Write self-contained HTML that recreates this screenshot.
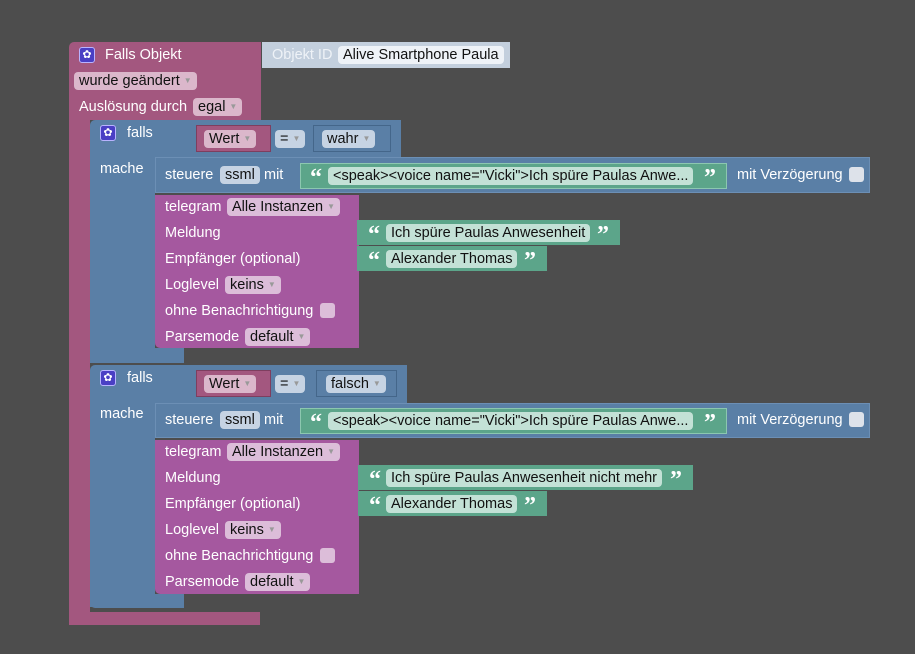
<!DOCTYPE html>
<html><head><meta charset="utf-8"><style>
body{margin:0;width:915px;height:654px;background:#4d4d4d;position:relative;overflow:hidden;font-family:"Liberation Sans",Arial,sans-serif;font-size:14.5px}
div{position:absolute;box-sizing:border-box}
.pk{background:#a3577f}
.bl{background:#5a7fa6}
.pu{background:#a5589f}
.gr{background:#5ca58a}
.t{color:#fff;white-space:nowrap;line-height:18px}
.f{border-radius:4px;color:#111;line-height:18px;height:18px;padding:0 5px;white-space:nowrap}
.fp{background:#dbb7cb}
.fb{background:#c6d3e3}
.fu{background:#dcbdd9}
.fg{background:#c3e1d6}
.ar{color:#999;font-size:8px;vertical-align:2px;margin-left:4px}
.gear{width:16px;height:16px;border-radius:3px;background:#4a3fc4;border:1px solid #b9b3ff;color:#fff;font-size:11px;line-height:14px;text-align:center}
.q{color:#fff;font-weight:bold;font-size:24px;line-height:24px;font-family:"Liberation Serif",serif}
.cb{width:15px;height:15px;border-radius:3px;background:#dde2ea}
</style></head><body>

<div class="pk" style="left:69px;top:42px;width:192px;height:78px;border-radius:5px 0 0 0"></div>
<div class="pk" style="left:69px;top:120px;width:21px;height:505px"></div>
<div class="pk" style="left:69px;top:612px;width:191px;height:13px;border-radius:0 0 0 5px"></div>
<div class="gear" style="left:79px;top:47px">✿</div>
<div class="t" style="left:105px;top:46px">Falls Objekt</div>
<div class="f fp" style="left:74px;top:72px">wurde geändert<span class="ar">▼</span></div>
<div class="t" style="left:79px;top:98px">Auslösung durch</div>
<div class="f fp" style="left:193px;top:98px">egal<span class="ar">▼</span></div>

<div style="left:262px;top:42px;width:248px;height:26px;background:#c3cfdd"></div>
<div class="t" style="left:272px;top:46px;color:#eef2f7">Objekt ID</div>
<div class="f" style="left:338px;top:46px;background:#eef2f7">Alive Smartphone Paula</div>

<!-- IF 1 -->
<div class="bl" style="left:90px;top:120px;width:311px;height:37px;border-radius:5px 0 0 0"></div>
<div class="bl" style="left:90px;top:157px;width:65px;height:206px"></div>
<div class="bl" style="left:90px;top:348px;width:94px;height:15px;border-radius:0 0 0 5px"></div>
<div class="gear" style="left:100px;top:125px">✿</div>
<div class="t" style="left:127px;top:124px">falls</div>
<div class="t" style="left:100px;top:160px">mache</div>
<div class="pk" style="left:196px;top:125px;width:75px;height:27px;border:1px solid #7e3e5f"></div>
<div class="f fp" style="left:204px;top:130px">Wert<span class="ar">▼</span></div>
<div class="f fb" style="left:275px;top:130px">=<span class="ar">▼</span></div>
<div class="bl" style="left:313px;top:125px;width:78px;height:27px;border:1px solid #44668a"></div>
<div class="f fb" style="left:322px;top:130px">wahr<span class="ar">▼</span></div>

<div class="bl" style="left:155px;top:157px;width:715px;height:36px;border:1px solid #6c8fb5"></div>
<div class="t" style="left:165px;top:166px">steuere</div>
<div class="f fb" style="left:220px;top:166px">ssml</div>
<div class="t" style="left:264px;top:166px">mit</div>
<div class="gr" style="left:300px;top:163px;width:427px;height:26px;border:1px solid #8cc7b0"></div>
<div class="q" style="left:310px;top:166px">“</div>
<div class="f fg" style="left:328px;top:167px">&lt;speak&gt;&lt;voice name="Vicki"&gt;Ich spüre Paulas Anwe...</div>
<div class="q" style="left:704px;top:166px">”</div>
<div class="t" style="left:737px;top:166px">mit Verzögerung</div>
<div class="cb" style="left:849px;top:167px"></div>

<div class="pu" style="left:155px;top:195px;width:204px;height:153px;border-radius:0 0 0 5px"></div>
<div class="t" style="left:165px;top:198px">telegram</div>
<div class="f fu" style="left:227px;top:198px">Alle Instanzen<span class="ar">▼</span></div>
<div class="t" style="left:165px;top:224px">Meldung</div>
<div class="t" style="left:165px;top:250px">Empfänger (optional)</div>
<div class="t" style="left:165px;top:276px">Loglevel</div>
<div class="f fu" style="left:225px;top:276px">keins<span class="ar">▼</span></div>
<div class="t" style="left:165px;top:302px">ohne Benachrichtigung</div>
<div class="cb" style="left:320px;top:303px;background:#dcbdd9"></div>
<div class="t" style="left:165px;top:328px">Parsemode</div>
<div class="f fu" style="left:245px;top:328px">default<span class="ar">▼</span></div>
<div class="gr" style="left:357px;top:220px;width:263px;height:25px"></div>
<div class="q" style="left:368px;top:223px">“</div>
<div class="f fg" style="left:386px;top:224px">Ich spüre Paulas Anwesenheit</div>
<div class="q" style="left:597px;top:223px">”</div>
<div class="gr" style="left:357px;top:246px;width:190px;height:25px"></div>
<div class="q" style="left:368px;top:249px">“</div>
<div class="f fg" style="left:386px;top:250px">Alexander Thomas</div>
<div class="q" style="left:524px;top:249px">”</div>

<!-- IF 2 -->
<div class="bl" style="left:90px;top:365px;width:317px;height:38px;border-radius:5px 0 0 0"></div>
<div class="bl" style="left:90px;top:403px;width:65px;height:204px"></div>
<div class="bl" style="left:90px;top:594px;width:94px;height:14px;border-radius:0 0 0 5px"></div>
<div class="gear" style="left:100px;top:370px">✿</div>
<div class="t" style="left:127px;top:369px">falls</div>
<div class="t" style="left:100px;top:405px">mache</div>
<div class="pk" style="left:196px;top:370px;width:75px;height:27px;border:1px solid #7e3e5f"></div>
<div class="f fp" style="left:204px;top:375px">Wert<span class="ar">▼</span></div>
<div class="f fb" style="left:275px;top:375px">=<span class="ar">▼</span></div>
<div class="bl" style="left:316px;top:370px;width:81px;height:27px;border:1px solid #44668a"></div>
<div class="f fb" style="left:326px;top:375px">falsch<span class="ar">▼</span></div>

<div class="bl" style="left:155px;top:403px;width:715px;height:35px;border:1px solid #6c8fb5"></div>
<div class="t" style="left:165px;top:411px">steuere</div>
<div class="f fb" style="left:220px;top:411px">ssml</div>
<div class="t" style="left:264px;top:411px">mit</div>
<div class="gr" style="left:300px;top:408px;width:427px;height:26px;border:1px solid #8cc7b0"></div>
<div class="q" style="left:310px;top:411px">“</div>
<div class="f fg" style="left:328px;top:412px">&lt;speak&gt;&lt;voice name="Vicki"&gt;Ich spüre Paulas Anwe...</div>
<div class="q" style="left:704px;top:411px">”</div>
<div class="t" style="left:737px;top:411px">mit Verzögerung</div>
<div class="cb" style="left:849px;top:412px"></div>

<div class="pu" style="left:155px;top:440px;width:204px;height:154px;border-radius:0 0 0 5px"></div>
<div class="t" style="left:165px;top:443px">telegram</div>
<div class="f fu" style="left:227px;top:443px">Alle Instanzen<span class="ar">▼</span></div>
<div class="t" style="left:165px;top:469px">Meldung</div>
<div class="t" style="left:165px;top:495px">Empfänger (optional)</div>
<div class="t" style="left:165px;top:521px">Loglevel</div>
<div class="f fu" style="left:225px;top:521px">keins<span class="ar">▼</span></div>
<div class="t" style="left:165px;top:547px">ohne Benachrichtigung</div>
<div class="cb" style="left:320px;top:548px;background:#dcbdd9"></div>
<div class="t" style="left:165px;top:573px">Parsemode</div>
<div class="f fu" style="left:245px;top:573px">default<span class="ar">▼</span></div>
<div class="gr" style="left:358px;top:465px;width:335px;height:25px"></div>
<div class="q" style="left:369px;top:468px">“</div>
<div class="f fg" style="left:386px;top:469px">Ich spüre Paulas Anwesenheit nicht mehr</div>
<div class="q" style="left:670px;top:468px">”</div>
<div class="gr" style="left:358px;top:491px;width:189px;height:25px"></div>
<div class="q" style="left:369px;top:494px">“</div>
<div class="f fg" style="left:386px;top:495px">Alexander Thomas</div>
<div class="q" style="left:524px;top:494px">”</div>

</body></html>
